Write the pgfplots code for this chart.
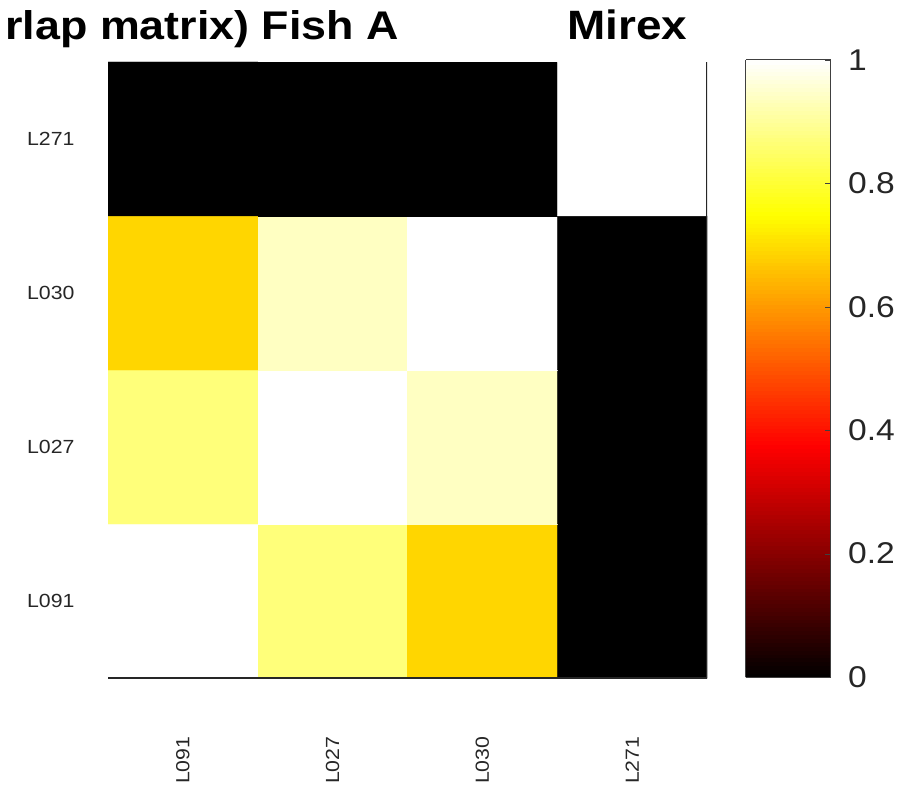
\documentclass[border=0pt]{standalone}
\usepackage{pgfplots}
\pgfplotsset{compat=1.18}
\usepackage{fontspec}
\setmainfont{Liberation Sans}[FakeStretch=1.12]
\begin{document}
\begin{tikzpicture}
\useasboundingbox (0pt,0pt) rectangle (918pt,796pt);
\begin{axis}[
  at={(108pt,118pt)}, anchor=south west,
  scale only axis, width=599pt, height=616pt,
  xmin=-0.5, xmax=3.5, ymin=-0.5, ymax=3.5,
  axis line style={draw=none},
  major tick length=0pt,
  xtick={0,1,2,3}, ytick={0,1,2,3},
  xticklabels={L091,L027,L030,L271},
  yticklabels={L091,L027,L030,L271},
  xticklabel style={rotate=90, anchor=east, font=\fontsize{19}{19}\selectfont, text=black!85},
  yticklabel style={anchor=east, font=\fontsize{19}{19}\selectfont, text=black!85},
  xticklabel shift=55pt,
  yticklabel shift=30pt,
  colormap={hotm}{rgb255(0cm)=(0,0,0); rgb255(3cm)=(255,0,0); rgb255(6cm)=(255,255,0); rgb255(8cm)=(255,255,255)},
  point meta min=0, point meta max=1,
  colorbar sampled,
  colorbar style={
    at={(parent axis.north east)}, anchor=north west, xshift=30pt, yshift=2pt,
    scale only axis, width=85pt, height=617pt,
    samples=160,
    ytick={0,0.2,0.4,0.6,0.8,1},
    yticklabel style={font=\fontsize{30}{30}\selectfont, text=black!85},
    /pgf/number format/assume math mode=true,
    major tick length=6pt, tick align=inside, ytick pos=right,
    yticklabel shift=14pt,
    axis line style={black!75, line width=1pt},
    tick style={black!75},
  },
]
\addplot[matrix plot*, mesh/cols=4, point meta=explicit] table[meta=c] {
x y c
0 0 1
1 0 0.87
2 0 0.69
3 0 0
0 1 0.87
1 1 1
2 1 0.94
3 1 0
0 2 0.69
1 2 0.94
2 2 1
3 2 0
0 3 0
1 3 0
2 3 0
3 3 1
};
\draw[black!85, line width=1.4pt] (rel axis cs:0,0) -- (rel axis cs:1,0) -- (rel axis cs:1,1);
\end{axis}
\node[anchor=base east, font=\bfseries\fontsize{40}{40}\selectfont, inner sep=0pt] at (399pt,756pt) {rlap matrix) Fish A};
\node[anchor=base west, font=\bfseries\fontsize{41}{41}\selectfont, inner sep=0pt] at (567pt,756pt) {Mirex};
\end{tikzpicture}
\end{document}
